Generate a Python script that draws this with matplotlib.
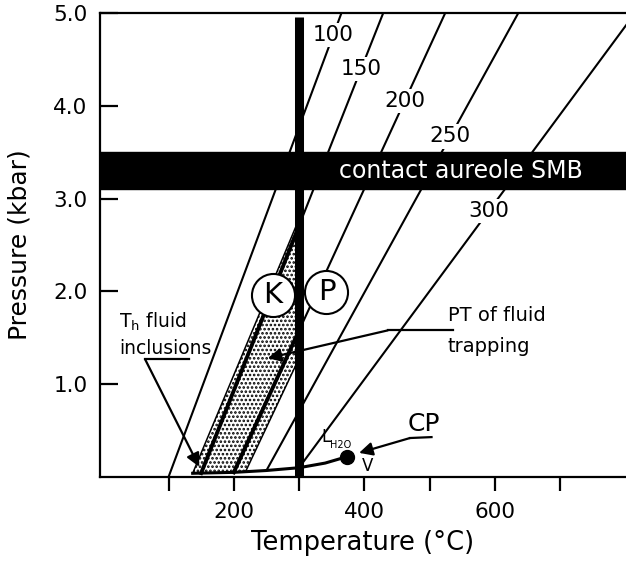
import matplotlib

matplotlib.use("Agg")

import matplotlib.pyplot as plt
import numpy as np

# isochores: homogenisation temperature and the temperature they reach at 5 kbar
TH = [100, 150, 200, 250, 300]
T_AT_5KBAR = [365, 429, 524, 636, 815]
LABEL_P = [4.76, 4.40, 4.05, 3.67, 2.87]
THICK_TH = [150, 200]

# liquid-vapour curve of H2O up to its critical point
LV_T = [137, 200, 250, 300, 340, 374]
LV_P = [0.04, 0.05, 0.07, 0.10, 0.15, 0.22]
CP = (374, 0.22)

# edges of the fluid inclusion isochore band
BAND_TH = [137, 218]
BAND_T5 = [432, 550]

AUREOLE_P = (3.1, 3.5)
INTRUSION_T = 300
K_PT = (260, 1.96)
P_PT = (342, 1.99)

X_TICKS = [100, 200, 300, 400, 500, 600, 700]
X_LABELS = ["", "200", "", "400", "", "600", ""]
Y_TICKS = [1, 2, 3, 4, 5]
Y_LABELS = ["1.0", "2.0", "3.0", "4.0", "5.0"]

plt.rcParams["hatch.linewidth"] = 1.25


def start_p(th):
    return np.interp(th, LV_T, LV_P, left=0.0)


def iso_t(th, t5, p):
    p0 = start_p(th)
    return th + (t5 - th) * (p - p0) / (5 - p0)


def iso_p(th, t5, t):
    p0 = start_p(th)
    return p0 + (t - th) * (5 - p0) / (t5 - th)


fig = plt.figure(figsize=(6.26, 5.61), dpi=100, facecolor="white")
ax = fig.add_axes([100 / 626, 84 / 561, 526 / 626, 464 / 561])
ax.set_xlim(-5, 801)
ax.set_ylim(0, 5)

# stippled band of fluid inclusion isochores left of the intrusion
p_top = iso_p(BAND_TH[0], BAND_T5[0], INTRUSION_T)
pp = np.linspace(0.045, p_top, 300)
x_left = iso_t(BAND_TH[0], BAND_T5[0], pp)
x_right = np.minimum(iso_t(BAND_TH[1], BAND_T5[1], pp), INTRUSION_T)
ax.fill_betweenx(pp, x_left, x_right, where=x_right > x_left, facecolor="none",
                 edgecolor="black", hatch="....", linewidth=0, zorder=1)
for th, t5 in zip(BAND_TH, BAND_T5):
    p1 = iso_p(th, t5, INTRUSION_T)
    ax.plot([th, INTRUSION_T], [start_p(th), p1], color="black", lw=1.1, zorder=2)

# isochores
for th, t5, lp in zip(TH, T_AT_5KBAR, LABEL_P):
    ax.plot([th, t5], [start_p(th), 5], color="black", lw=1.5, zorder=2)
    if th in THICK_TH:
        ax.plot([th, INTRUSION_T], [start_p(th), iso_p(th, t5, INTRUSION_T)],
                color="black", lw=2.8, zorder=2)
    ax.text(iso_t(th, t5, lp), lp, str(th), ha="center", va="center", fontsize=15.5,
            bbox=dict(facecolor="white", edgecolor="none", pad=1.5), zorder=2.5)

# liquid-vapour curve and critical point
ax.plot(LV_T, LV_P, color="black", lw=2.2, zorder=2)
ax.plot(*CP, "o", color="black", markersize=10, zorder=5)

# contact aureole and intrusion temperature
ax.axhspan(*AUREOLE_P, color="black", zorder=3)
ax.text(548, np.mean(AUREOLE_P), "contact aureole SMB", color="white", ha="center",
        va="center", fontsize=17, zorder=4)
ax.plot([INTRUSION_T, INTRUSION_T], [0, 4.96], color="black", lw=6.5,
        solid_capstyle="butt", zorder=4)

for (t, p), name in [(K_PT, "K"), (P_PT, "P")]:
    ax.plot(t, p, "o", markersize=31, markerfacecolor="white", markeredgecolor="black",
            markeredgewidth=1.5, zorder=6)
    ax.text(t, p, name, ha="center", va="center", fontsize=21, zorder=7)

# annotations
arrow = dict(arrowstyle="-|>", color="black", lw=1.6, mutation_scale=20,
             shrinkA=0, shrinkB=0)
ax.text(24, 1.67, r"T$_\mathregular{h}$ fluid", ha="left", va="center", fontsize=13.5)
ax.text(24, 1.39, "inclusions", ha="left", va="center", fontsize=13.5)
ax.plot([132, 64], [1.27, 1.27], color="black", lw=1.6, zorder=5)
ax.annotate("", xy=(147, 0.11), xytext=(64, 1.27), arrowprops=arrow, zorder=5)

ax.text(528, 1.74, "PT of fluid", ha="left", va="center", fontsize=14)
ax.text(528, 1.41, "trapping", ha="left", va="center", fontsize=14)
ax.plot([536, 436], [1.58, 1.58], color="black", lw=1.6, zorder=5)
ax.annotate("", xy=(252, 1.28), xytext=(436, 1.58), arrowprops=arrow, zorder=5)

ax.text(491, 0.57, "CP", ha="center", va="center", fontsize=18)
ax.plot([503, 470], [0.43, 0.42], color="black", lw=1.6, zorder=5)
ax.annotate("", xy=(392, 0.26), xytext=(470, 0.42), arrowprops=arrow, zorder=5)

ax.text(341, 0.43, "L", ha="center", va="center", fontsize=12)
ax.text(363, 0.345, "H2O", ha="center", va="center", fontsize=7)
ax.text(405, 0.12, "V", ha="center", va="center", fontsize=12)

# axes styling
for side in ["left", "bottom", "top"]:
    ax.spines[side].set_linewidth(1.6)
ax.spines["right"].set_visible(False)
ax.set_xticks(X_TICKS)
ax.set_xticklabels(X_LABELS)
ax.set_yticks(Y_TICKS)
ax.set_yticklabels(Y_LABELS)
ax.tick_params(axis="x", direction="out", length=10, width=1.6, labelsize=15.5, pad=8)
ax.tick_params(axis="y", direction="in", length=13, width=1.6, labelsize=15.5, pad=9)
ax.set_xlabel("Temperature (°C)", fontsize=18.5, labelpad=6)
ax.set_ylabel("Pressure (kbar)", fontsize=18, labelpad=16)

fig.savefig("out.png", dpi=100)
